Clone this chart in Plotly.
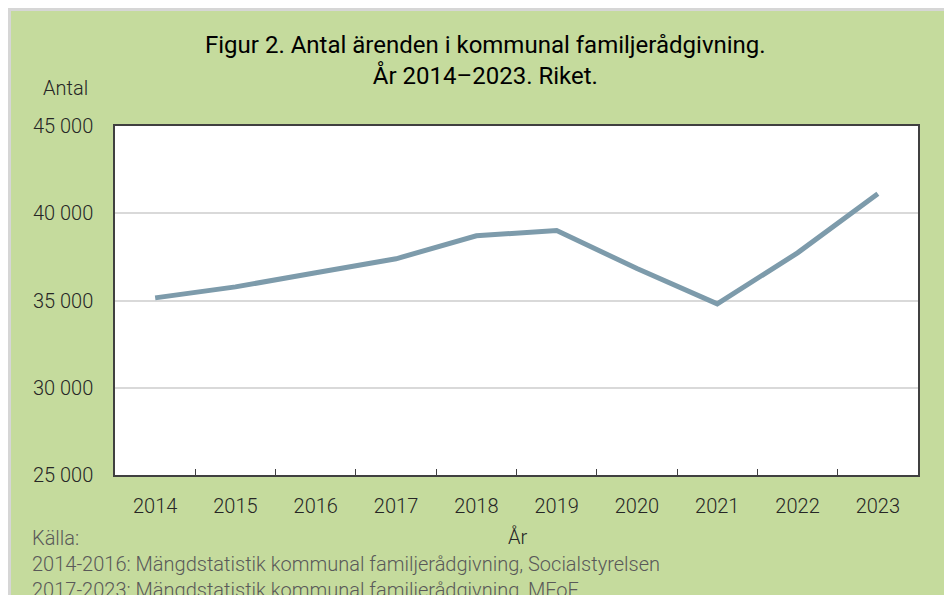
import plotly.graph_objects as go

years = ["2014", "2015", "2016", "2017", "2018", "2019", "2020", "2021", "2022", "2023"]
cases = [35150, 35780, 36590, 37390, 38710, 39015, 36830, 34810, 37730, 41120]
y_ticks = [25000, 30000, 35000, 40000, 45000]
y_tick_labels = ["25 000", "30 000", "35 000", "40 000", "45 000"]

# figure is drawn at an 8px page offset; coordinates below are in figure pixels
W, H = 952, 595
L, R, T, B = 107, 42, 118, 128
pw, ph = W - L - R, H - T - B

def px(x):
    return (x - L) / pw

def py(y):
    return (H - B - y) / ph

GREEN = "#C5DB9D"
fig = go.Figure()
fig.add_trace(go.Scatter(x=years, y=cases, mode="lines",
                         line=dict(color="#7D9BAB", width=5), showlegend=False))

shapes = [
    dict(type="line", xref="paper", yref="paper", x0=px(0), x1=px(W), y0=py(1.5), y1=py(1.5),
         line=dict(color="#D6D6D6", width=3)),
    dict(type="line", xref="paper", yref="paper", x0=px(1.5), x1=px(1.5), y0=py(0), y1=py(H),
         line=dict(color="#D6D6D6", width=3)),
    dict(type="rect", xref="paper", yref="paper", x0=0, x1=1, y0=0, y1=1,
         fillcolor="white", line=dict(width=0), layer="below"),
]

fig.update_layout(
    width=W, height=H,
    margin=dict(l=L, r=R, t=T, b=B),
    paper_bgcolor=GREEN,
    plot_bgcolor="rgba(0,0,0,0)",
    font=dict(family="Roboto", color="#262626"),
    shapes=shapes,
    xaxis=dict(type="category", range=[-0.5, 9.5], tickson="boundaries", ticks="inside",
               ticklen=6, tickcolor="#404040", showline=True, linecolor="#404040", linewidth=1.5,
               mirror=True, showgrid=False, tickfont=dict(size=20, color="#262626", weight=300),
               ticklabelstandoff=12),
    yaxis=dict(range=[25000, 45000], tickvals=y_ticks, ticktext=y_tick_labels, ticks="",
               showline=True, linecolor="#404040", linewidth=1.5, mirror=True,
               gridcolor="#D9D9D9", gridwidth=1.5, zeroline=False,
               tickfont=dict(size=20, color="#262626", weight=300), ticklabelstandoff=16),
    annotations=[
        dict(text="Figur 2. Antal ärenden i kommunal familjerådgivning.<br>År 2014–2023. Riket.",
             xref="paper", yref="paper", x=px(477), y=py(53), xanchor="center", yanchor="middle",
             showarrow=False, font=dict(size=24, color="#000000")),
        dict(text="Antal", xref="paper", yref="paper", x=px(82), y=py(80), xanchor="right",
             yanchor="middle", showarrow=False, font=dict(size=20, weight=300, color="#262626")),
        dict(text="År", xref="paper", yref="paper", x=px(510), y=py(529), xanchor="center",
             yanchor="middle", showarrow=False, font=dict(size=20, weight=300, color="#262626")),
        dict(text="Källa:<br>2014-2016: Mängdstatistik kommunal familjerådgivning, Socialstyrelsen<br>2017-2023: Mängdstatistik kommunal familjerådgivning, MFoF",
             xref="paper", yref="paper", x=px(22), y=py(516), xanchor="left", yanchor="top",
             align="left", showarrow=False, font=dict(size=20, weight=300, color="#595959")),
    ],
)

fig.write_html("out.html")
